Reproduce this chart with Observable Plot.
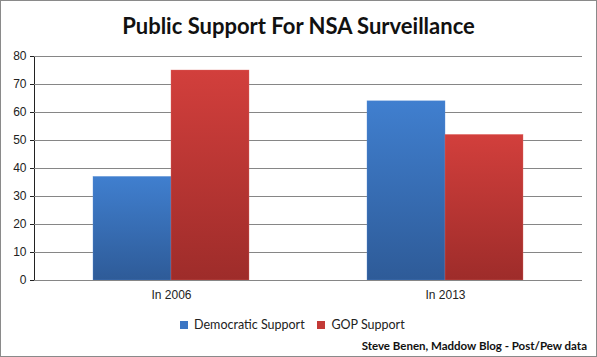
<!DOCTYPE html>
<html>
<head>
<meta charset="utf-8">
<script src="https://cdn.jsdelivr.net/npm/d3@7"></script>
<script src="https://cdn.jsdelivr.net/npm/@observablehq/plot@0.6"></script>
<style>
  html, body { margin: 0; padding: 0; background: #fff; }
  #box { position: relative; width: 597px; height: 357px; box-sizing: border-box; border: 1px solid #8a8a8a; background: #fff; overflow: hidden; }
  #title { position: absolute; left: 0; top: 11px; width: 595px; text-align: center; font-family: Lato, sans-serif; font-weight: bold; font-size: 22px; color: #111; }
  #chart { position: absolute; left: 0; top: 43px; }
  #legend { position: absolute; left: 0; top: 307px; width: 595px; display: flex; justify-content: center; }
  #caption { position: absolute; right: 9px; top: 338px; font-family: Lato, sans-serif; font-weight: bold; font-size: 11.5px; color: #111; }
</style>
</head>
<body>
<div id="box">
  <div id="title">Public Support For NSA Surveillance</div>
  <div id="chart"></div>
  <div id="legend"></div>
  <div id="caption">Steve Benen, Maddow Blog - Post/Pew data</div>
</div>
<script>
const years = ["In 2006", "In 2013"];
const parties = ["Democratic Support", "GOP Support"];
const demValues = [37, 64];
const gopValues = [75, 52];
const yTicks = [0, 10, 20, 30, 40, 50, 60, 70, 80];
const legendColors = ["#3C76C4", "#C33A37"];

const dem = years.map((y, i) => ({year: y, party: parties[0], value: demValues[i]}));
const gop = years.map((y, i) => ({year: y, party: parties[1], value: gopValues[i]}));

function gradientDefs() {
  const ns = "http://www.w3.org/2000/svg";
  const defs = document.createElementNS(ns, "defs");
  const mk = (id, stops) => {
    const g = document.createElementNS(ns, "linearGradient");
    g.setAttribute("id", id);
    g.setAttribute("x1", "0"); g.setAttribute("y1", "0");
    g.setAttribute("x2", "0"); g.setAttribute("y2", "1");
    for (const [o, c] of stops) {
      const s = document.createElementNS(ns, "stop");
      s.setAttribute("offset", o);
      s.setAttribute("stop-color", c);
      g.appendChild(s);
    }
    defs.appendChild(g);
  };
  mk("gDem", [["0", "#407FCF"], ["1", "#2E5B98"]]);
  mk("gGop", [["0", "#D23F3C"], ["1", "#9E2C2A"]]);
  const g = document.createElementNS(ns, "g");
  g.appendChild(defs);
  return g;
}

const chart = Plot.plot({
  width: 595,
  height: 262,
  marginTop: 12,
  marginBottom: 26,
  marginLeft: 33,
  marginRight: 14,
  style: {fontFamily: "'Liberation Sans', Arial, sans-serif", fontSize: "12px", color: "#222", background: "transparent"},
  fx: {domain: years, padding: 0, label: null, tickSize: 0, tickPadding: 10, axis: "bottom"},
  x: {domain: parties, paddingInner: 0, paddingOuter: 0.756, axis: null},
  y: {domain: [0, 80], ticks: yTicks, label: null, tickSize: 4, tickPadding: 4, line: true},
  marks: [
    gradientDefs,
    Plot.gridY(yTicks, {stroke: "#868686", strokeOpacity: 1}),
    Plot.barY(dem, {fx: "year", x: "party", y: "value", fill: "url(#gDem)", stroke: "#5b8fd6", strokeWidth: 0.6, strokeOpacity: 0.6}),
    Plot.barY(gop, {fx: "year", x: "party", y: "value", fill: "url(#gGop)", stroke: "#e06a67", strokeWidth: 0.6, strokeOpacity: 0.6}),
    Plot.ruleY([0], {stroke: "#868686"})
  ]
});
document.getElementById("chart").appendChild(chart);

const legend = Plot.legend({
  color: {type: "ordinal", domain: parties, range: legendColors},
  swatchSize: 8,
  style: {fontFamily: "Lato, sans-serif", fontSize: "12.5px", color: "#222"}
});
document.getElementById("legend").appendChild(legend);
</script>
</body>
</html>
